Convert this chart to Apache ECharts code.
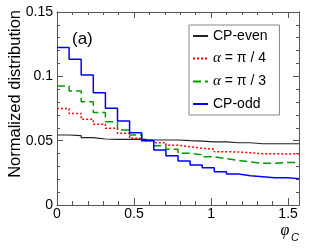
<!DOCTYPE html>
<html>
<head>
<meta charset="utf-8">
<script src="https://cdn.jsdelivr.net/npm/echarts@6/dist/echarts.min.js"></script>
<style>html,body{margin:0;padding:0;background:#fff}#c{width:315px;height:250px}</style>
</head>
<body>
<div id="c"></div>
<script>
// ---- data (20 bins over 0 .. pi/2) ----
const xMin = 0;
const xMax = Math.PI / 2;
const nBins = 20;
const seriesNames = ['CP-even', 'α = π / 4', 'α = π / 3', 'CP-odd'];
const cpEven = [0.0544, 0.0539, 0.0523, 0.0513, 0.0510, 0.0510, 0.0512, 0.0505, 0.0505, 0.0505,
                0.0500, 0.0497, 0.0490, 0.0490, 0.0484, 0.0484, 0.0476, 0.0476, 0.0476, 0.0476];
const alphaPi4 = [0.0750, 0.0712, 0.0666, 0.0627, 0.0596, 0.0557, 0.0518, 0.0500, 0.0484, 0.0464,
                  0.0453, 0.0440, 0.0435, 0.0414, 0.0412, 0.0406, 0.0399, 0.0399, 0.0396, 0.0399];
const alphaPi3 = [0.0925, 0.0886, 0.0803, 0.0718, 0.0647, 0.0583, 0.0544, 0.0505, 0.0460, 0.0433,
                  0.0402, 0.0391, 0.0375, 0.0360, 0.0347, 0.0334, 0.0324, 0.0324, 0.0330, 0.0330];
const cpOdd = [0.1225, 0.1132, 0.1010, 0.0873, 0.0751, 0.0653, 0.0562, 0.0500, 0.0427, 0.0383,
               0.0342, 0.0310, 0.0290, 0.0259, 0.0241, 0.0228, 0.0220, 0.0212, 0.0212, 0.0205];
const yTicks = [0, 0.05, 0.1, 0.15];
const xTicks = [0, 0.5, 1, 1.5];

function histPoints(vals) {
  const w = (xMax - xMin) / nBins;
  const pts = vals.map((v, i) => [xMin + i * w, v]);
  pts.push([xMax, vals[vals.length - 1]]);
  return pts;
}

const FONT = 'Liberation Sans, Arial, Helvetica, sans-serif';
const AX = '#555';
const chart = echarts.init(document.getElementById('c'), null, {renderer: 'canvas'});

function xAx(pos, interval, tickLen, showLabels, showLine) {
  return {
    type: 'value', position: pos, min: xMin, max: xMax, interval: interval,
    axisLine: {show: showLine, onZero: false, lineStyle: {color: AX, width: 1}},
    axisTick: {show: true, inside: true, length: tickLen, lineStyle: {color: AX, width: 1}},
    axisLabel: {
      show: showLabels, margin: 2, color: '#000', fontSize: 14, fontFamily: FONT,
      formatter: function (v) {
        for (const t of xTicks) if (Math.abs(v - t) < 1e-9) return String(t);
        return '';
      }
    },
    splitLine: {show: false}
  };
}
function yAx(pos, showLabels) {
  return {
    type: 'value', position: pos, min: yTicks[0], max: yTicks[yTicks.length - 1], interval: 0.05,
    axisLine: {show: true, onZero: false, lineStyle: {color: AX, width: 1}},
    axisTick: {show: true, inside: true, length: 6, lineStyle: {color: AX, width: 1}},
    minorTick: {show: true, splitNumber: 5, length: 3, lineStyle: {color: AX, width: 1}},
    axisLabel: {show: showLabels, margin: 4, color: '#000', fontSize: 14, fontFamily: FONT,
      formatter: v => String(+v.toFixed(2))},
    splitLine: {show: false}, minorSplitLine: {show: false}
  };
}

const styles = [
  {color: '#222222', width: 1.2, type: 'solid'},
  {color: '#ff0000', width: 1.5, type: [2, 2]},
  {color: '#009900', width: 1.5, type: [8, 4]},
  {color: '#0000ff', width: 1.5, type: 'solid'}
];
const datas = [cpEven, alphaPi4, alphaPi3, cpOdd];

chart.setOption({
  animation: false,
  backgroundColor: '#fff',
  grid: {left: 57, right: 16, top: 12, bottom: 45, containLabel: false},
  xAxis: [
    xAx('bottom', 0.5, 7, true, true),
    xAx('bottom', 0.1, 4, false, false),
    xAx('top', 0.5, 6, false, true),
    xAx('top', 0.1, 3, false, false)
  ],
  yAxis: [yAx('left', true), yAx('right', false)],
  legend: {
    orient: 'vertical', left: 189, top: 25,
    padding: [4, 12, 4, 3], itemGap: 8, itemWidth: 15, itemHeight: 14,
    borderColor: '#888', borderWidth: 1, backgroundColor: '#fff',
    data: seriesNames,
    itemStyle: {opacity: 0},
    textStyle: {color: '#000', fontSize: 14, fontFamily: FONT,
      rich: {i: {fontStyle: 'italic', fontSize: 15, fontFamily: 'Liberation Serif, serif', color: '#000'}}},
    formatter: n => n.charAt(0) === 'α' ? '{i|α}' + n.slice(1) : n
  },
  series: seriesNames.map((n, i) => ({
    name: n, type: 'line', step: 'end', symbol: 'none', showSymbol: false,
    xAxisIndex: 0, yAxisIndex: 0,
    lineStyle: styles[i], itemStyle: {color: styles[i].color},
    data: histPoints(datas[i]), z: 2 + i
  })),
  graphic: [
    {type: 'text', x: 15, y: 10, rotation: Math.PI / 2,
      style: {text: 'Normalized distribution', fill: '#000', font: '16.5px ' + FONT, textAlign: 'right', textVerticalAlign: 'middle'}},
    {type: 'text', x: 72, y: 39,
      style: {text: '(a)', fill: '#000', font: '17px ' + FONT, textAlign: 'left', textVerticalAlign: 'middle'}},
    {type: 'text', x: 285, y: 231,
      style: {text: 'φ', fill: '#000', font: 'italic 16px Liberation Serif, serif', textAlign: 'center', textVerticalAlign: 'middle'}},
    {type: 'text', x: 295, y: 238,
      style: {text: 'C', fill: '#000', font: 'italic 11px ' + FONT, textAlign: 'center', textVerticalAlign: 'middle'}}
  ]
});
</script>
</body>
</html>
